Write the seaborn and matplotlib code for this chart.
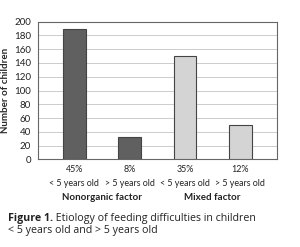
import matplotlib
matplotlib.use("Agg")
import matplotlib.pyplot as plt
import matplotlib.transforms as mtransforms
import seaborn as sns
import pandas as pd

# --- Data ---
categories = ["< 5 years old", "> 5 years old", "< 5 years old ", "> 5 years old "]
percents = ["45%", "8%", "35%", "12%"]
counts = [190, 32, 150, 50]
groups = ["Nonorganic factor", "Nonorganic factor", "Mixed factor", "Mixed factor"]
group_labels = ["Nonorganic factor", "Mixed factor"]
yticks = list(range(0, 201, 20))

df = pd.DataFrame({"cat": categories, "count": counts, "group": groups})

sns.set_style("white")
plt.rcParams["font.family"] = ["Lato", "DejaVu Sans"]

fig = plt.figure(figsize=(3.0, 2.47), dpi=100)
ax = fig.add_axes([37.7 / 300, 1 - 159.3 / 247, 239 / 300, 137.6 / 247])

colors = ["#606060", "#606060", "#d4d4d4", "#d4d4d4"]
sns.barplot(data=df, x="cat", y="count", hue="cat", palette=colors, legend=False,
            width=0.41, edgecolor="#444444", linewidth=0.8, ax=ax, zorder=3)

ax.set_ylim(0, 200)
ax.set_xlim(-0.66, 3.66)
ax.set_yticks(yticks)
ax.yaxis.grid(True, color="#cccccc", linewidth=0.7, zorder=0)
ax.set_axisbelow(True)
ax.tick_params(axis="y", labelsize=7, length=3.5, width=0.6, pad=1.5, colors="#222222")
ax.tick_params(axis="x", length=0)
for s in ax.spines.values():
    s.set_color("#666666")
    s.set_linewidth(0.8)

ax.set_xticks(range(4))
ax.set_xticklabels([f"{p}\n{c.strip()}" for p, c in zip(percents, categories)],
                   fontsize=6.4, linespacing=1.7, color="#222222")
ax.tick_params(axis="x", pad=4)
ax.set_xlabel("")
ax.set_ylabel("Number of children", fontsize=7, fontweight="bold", labelpad=3)

trans = mtransforms.blended_transform_factory(ax.transData, fig.transFigure)
for i, g in enumerate(group_labels):
    ax.text(0.5 + 2 * i, 1 - 197 / 247, g, transform=trans, ha="center", va="center",
            fontsize=7, fontweight="bold", color="#222222")

cap = ["Open Sans", "DejaVu Sans"]
t1 = fig.text(8 / 300, 1 - 218 / 247, "Figure 1.", fontsize=7.7, fontweight="bold",
              va="center", ha="left", color="#222222", family=cap)
ax.annotate(" Etiology of feeding difficulties in children", xy=(1, 0.5), xycoords=t1,
            va="center", ha="left", fontsize=7.7, color="#222222", annotation_clip=False,
            family=cap)
fig.text(8 / 300, 1 - 230.5 / 247, "< 5 years old and > 5 years old", fontsize=7.7,
         va="center", ha="left", color="#222222", family=cap)

fig.savefig("out.png", dpi=100)
